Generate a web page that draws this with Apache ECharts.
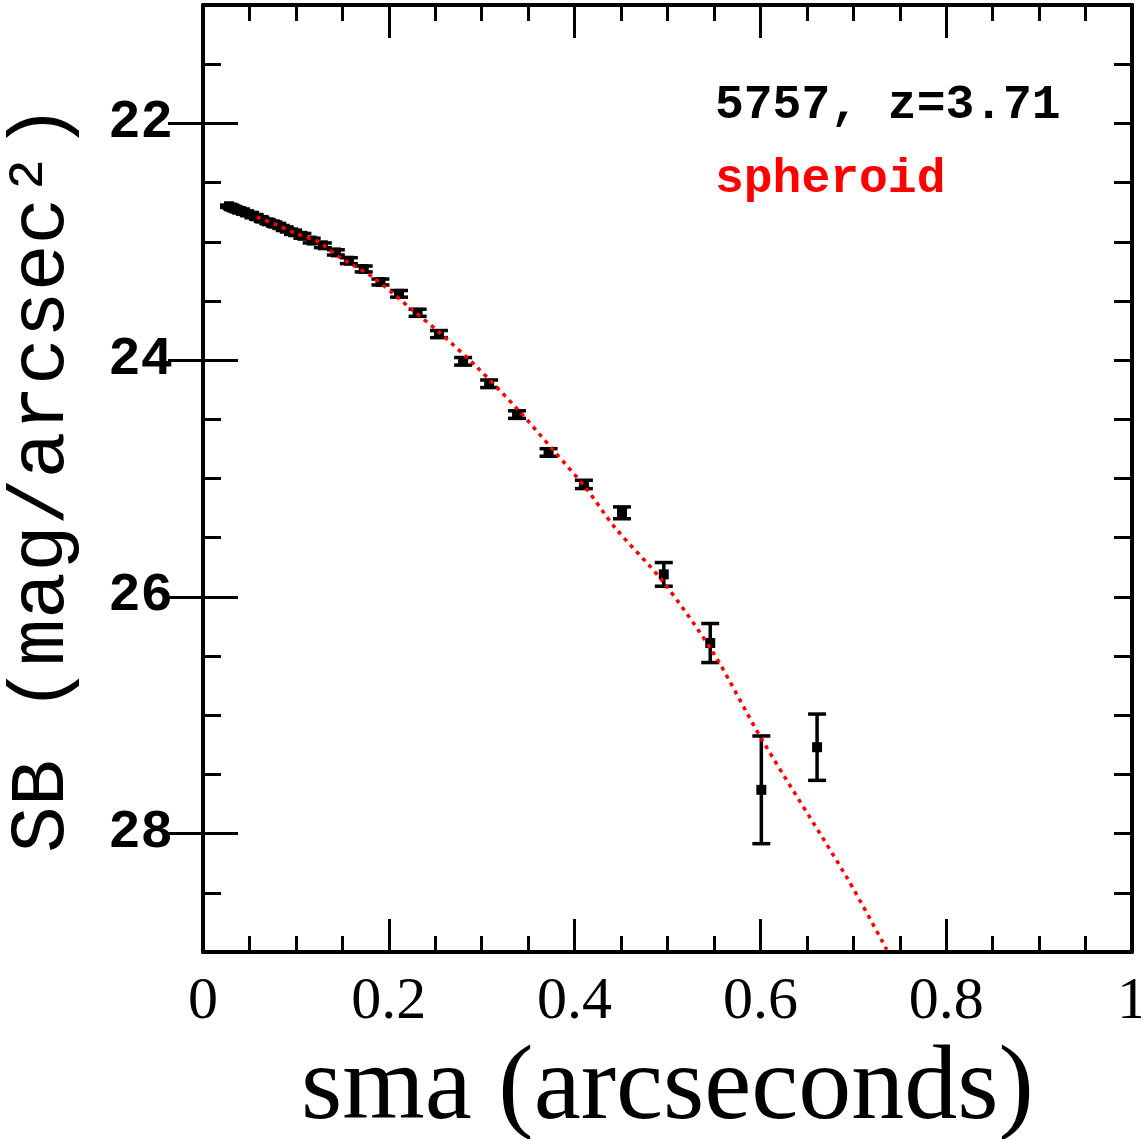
<!DOCTYPE html>
<html>
<head>
<meta charset="utf-8">
<script src="https://cdn.jsdelivr.net/npm/echarts@6/dist/echarts.min.js"></script>
<style>html,body{margin:0;padding:0;background:#fff;}#c{width:1141px;height:1139px;}</style>
</head>
<body>
<div id="c"></div>
<script>
// Data
const sma = [0.028,0.031,0.034,0.037,0.041,0.045,0.050,0.055,0.060,0.066,0.073,0.080,0.088,0.097,0.107,0.117,0.129,0.143,0.157,0.173,0.191,0.211,0.231,0.254,0.280,0.308,0.338,0.372,0.410,0.451,0.496,0.546,0.601,0.661];
const sb  = [22.70,22.71,22.72,22.73,22.74,22.75,22.77,22.78,22.80,22.82,22.84,22.86,22.89,22.92,22.95,22.99,23.03,23.09,23.16,23.23,23.34,23.44,23.60,23.78,24.01,24.20,24.46,24.78,25.05,25.29,25.81,26.39,27.63,27.27];
const sbErr = [0.01,0.01,0.01,0.01,0.01,0.01,0.01,0.01,0.012,0.012,0.015,0.015,0.015,0.018,0.02,0.02,0.02,0.022,0.025,0.025,0.025,0.028,0.03,0.03,0.032,0.032,0.032,0.032,0.035,0.05,0.10,0.165,0.455,0.28];
const modelSma = [0.058,0.080,0.100,0.124,0.147,0.183,0.226,0.255,0.295,0.338,0.377,0.413,0.443,0.495,0.549,0.602,0.693,0.736];
const modelSb  = [22.79,22.86,22.93,23.00,23.13,23.30,23.58,23.77,24.06,24.41,24.76,25.09,25.41,25.87,26.47,27.21,28.37,28.98];
const yMajorTicks = [22,24,26,28];
const labelText = '5757, z=3.71';
const typeText = 'spheroid';

const chart = echarts.init(document.getElementById('c'));
const black = '#000';
const pts = sma.map((x,i)=>[x, sb[i], sbErr[i]]);
const model = modelSma.map((x,i)=>[x, modelSb[i]]);

function xAxisCfg(pos, labels){
  return {
    type:'value', position:pos, min:0, max:1, interval:0.2,
    axisLine:{show:true, onZero:false, lineStyle:{color:black, width:4}},
    axisTick:{show:true, inside:true, length:33, lineStyle:{color:black, width:3}},
    minorTick:{show:true, splitNumber:4, length:16, lineStyle:{color:black, width:3}},
    splitLine:{show:false}, minorSplitLine:{show:false},
    axisLabel:{show:labels, color:black, fontFamily:'Liberation Serif', fontSize:60, margin:20},
    name: labels ? 'sma (arcseconds)' : '',
    nameLocation:'middle', nameGap:79,
    nameTextStyle:{color:black, fontFamily:'Liberation Serif', fontSize:106}
  };
}
function yMinor(pos){
  return {
    type:'value', position:pos, min:21, max:29, inverse:true, interval:0.5,
    axisLine:{show:true, onZero:false, lineStyle:{color:black, width:4}},
    axisTick:{show:true, inside:true, length:18, lineStyle:{color:black, width:3}},
    splitLine:{show:false}, axisLabel:{show:false}
  };
}
function yMajor(pos, labels){
  return {
    type:'value', position:pos, min:21, max:29, inverse:true,
    axisLine:{show:false},
    axisTick:{show:true, inside:true, length:35, customValues:yMajorTicks, lineStyle:{color:black, width:3}},
    splitLine:{show:false},
    axisLabel:{show:labels, customValues:yMajorTicks, color:black, fontFamily:'Liberation Mono', fontWeight:'bold', fontSize:54, margin:30},
    name: labels ? 'SB (mag/arcsec²)' : '',
    nameLocation:'middle', nameGap:122, nameRotate:90,
    nameTextStyle:{color:black, fontFamily:'Liberation Mono', fontSize:78}
  };
}

chart.setOption({
  animation:false,
  backgroundColor:'#fff',
  grid:{left:203, right:9, top:5, bottom:187, containLabel:false, outerBoundsMode:'none'},
  xAxis:[xAxisCfg('bottom', true), xAxisCfg('top', false)],
  yAxis:[yMinor('left'), yMajor('left', true), yMinor('right'), yMajor('right', false)],
  graphic:[
    {type:'text', x:715, y:106, style:{text:labelText, font:'bold 48px "Liberation Mono"', fill:black, verticalAlign:'middle'}},
    {type:'text', x:715, y:180, style:{text:typeText, font:'bold 48px "Liberation Mono"', fill:'#ff0000', verticalAlign:'middle'}}
  ],
  series:[
    {
      type:'custom', xAxisIndex:0, yAxisIndex:0, data:pts, z:2,
      renderItem:function(params, api){
        const x = api.value(0), y = api.value(1), e = api.value(2);
        const c = api.coord([x, y]);
        const t = api.coord([x, y - e]);
        const b = api.coord([x, y + e]);
        const hw = 9;
        const st = {stroke:black, lineWidth:3.5};
        return {type:'group', children:[
          {type:'line', shape:{x1:c[0], y1:t[1], x2:c[0], y2:b[1]}, style:st},
          {type:'line', shape:{x1:c[0]-hw, y1:t[1], x2:c[0]+hw, y2:t[1]}, style:st},
          {type:'line', shape:{x1:c[0]-hw, y1:b[1], x2:c[0]+hw, y2:b[1]}, style:st},
          {type:'rect', shape:{x:c[0]-5, y:c[1]-5, width:10, height:10}, style:{fill:black}}
        ]};
      }
    },
    {
      type:'line', xAxisIndex:0, yAxisIndex:0, data:model, showSymbol:false, smooth:0.3, z:3,
      lineStyle:{color:'#ff0000', width:3.5, type:[4,5]}
    }
  ]
});
</script>
</body>
</html>
